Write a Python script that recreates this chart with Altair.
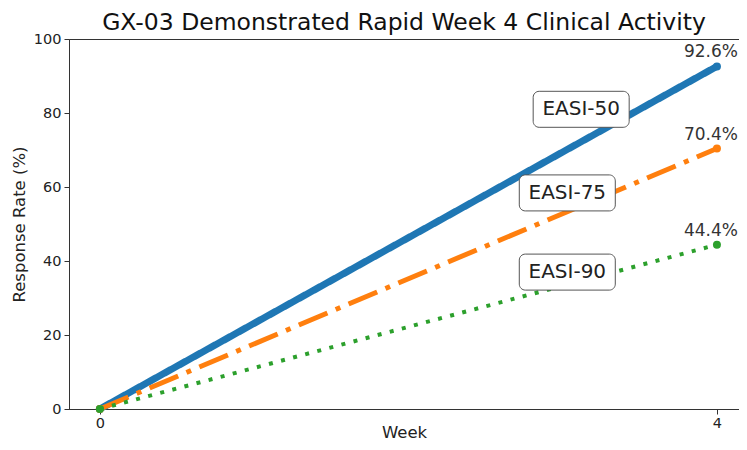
import altair as alt
import pandas as pd

weeks = [0, 4]
series_names = ["EASI-50", "EASI-75", "EASI-90"]
easi50 = [0, 92.6]
easi75 = [0, 70.4]
easi90 = [0, 44.4]
end_labels = ["92.6%", "70.4%", "44.4%"]
box_x = [3.12, 3.03, 3.03]
box_y = [81.0, 58.4, 37.0]

colors = ["#1f77b4", "#ff7f0e", "#2ca02c"]
widths = [7, 5, 4]
dashes = [[1, 0], [31, 9, 5, 9], [4, 8.5]]

FONT = "DejaVu Sans"

xs = alt.Scale(domain=[-0.2, 4.143], nice=False, zero=False)
ys = alt.Scale(domain=[0, 100], nice=False)

layers = []
for name, vals, col, w, d, lab in zip(series_names, [easi50, easi75, easi90], colors, widths, dashes, end_labels):
    df = pd.DataFrame({"week": weeks, "rate": vals, "series": name})
    enc = dict(
        x=alt.X("week:Q", scale=xs,
                axis=alt.Axis(values=[0, 4], title="Week", format="d")),
        y=alt.Y("rate:Q", scale=ys,
                axis=alt.Axis(values=[0, 20, 40, 60, 80, 100], title="Response Rate (%)")),
    )
    line = alt.Chart(df).mark_line(color=col, strokeWidth=w, strokeDash=d, strokeCap="butt").encode(**enc)
    pts = alt.Chart(df).mark_point(filled=True, shape="circle", size=64, color=col, opacity=1).encode(**enc)
    edf = pd.DataFrame({"week": [weeks[-1]], "rate": [vals[-1]], "lab": [lab]})
    txt = alt.Chart(edf).mark_text(font=FONT, fontSize=17, color="#333333", baseline="alphabetic",
                                   dy=-9, dx=-6).encode(
        x=alt.X("week:Q", scale=xs), y=alt.Y("rate:Q", scale=ys), text="lab:N")
    layers += [line, pts, txt]

bdf = pd.DataFrame({"bx": box_x, "by": box_y, "name": series_names})
boxes = alt.Chart(bdf).mark_rect(
    fill="white", stroke="#555555", strokeWidth=1, cornerRadius=6,
    xOffset=-48, x2Offset=48, yOffset=-18, y2Offset=18
).encode(
    x=alt.X("bx:Q", scale=xs), x2="bx:Q",
    y=alt.Y("by:Q", scale=ys), y2="by:Q",
)
btxt = alt.Chart(bdf).mark_text(font=FONT, fontSize=20, color="#222222", baseline="middle", align="center").encode(
    x=alt.X("bx:Q", scale=xs), y=alt.Y("by:Q", scale=ys), text="name:N")

chart = alt.layer(*layers, boxes, btxt).properties(
    width=670, height=370,
    title=alt.TitleParams("GX-03 Demonstrated Rapid Week 4 Clinical Activity", font=FONT, fontSize=23.5,
                          fontWeight="normal", color="#111111", offset=-3, anchor="middle"),
    autosize=alt.AutoSizeParams(type="none"),
    padding={"left": 61, "top": 31, "right": 0, "bottom": 32},
).configure_view(stroke="#333333", strokeWidth=1).configure_axis(
    grid=False, domainColor="#333333", tickColor="#333333", tickSize=5,
    labelFont=FONT, labelFontSize=14.5, labelColor="#222222",
    titleFont=FONT, titleFontSize=16.5, titleFontWeight="normal", titleColor="#222222",
).configure_axisY(titlePadding=6, labelPadding=3).configure_axisX(titlePadding=-5, labelPadding=2)

chart.save("out.html", embed_options={"renderer": "svg", "actions": False})
